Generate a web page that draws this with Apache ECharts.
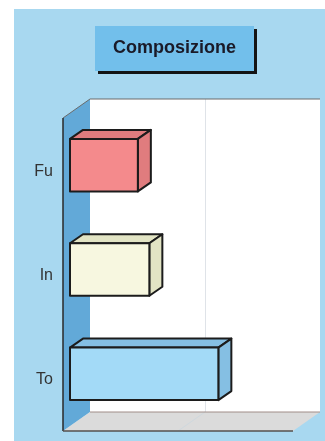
<!DOCTYPE html>
<html>
<head>
<meta charset="utf-8">
<style>
  html, body { margin: 0; padding: 0; background: #fff; }
  #chart { width: 325px; height: 441px; }
</style>
<script src="https://cdn.jsdelivr.net/npm/echarts@6/dist/echarts.min.js"></script>
</head>
<body>
<div id="chart"></div>
<script>
const categories = ['Fu', 'In', 'To'];
const values = [59, 69, 129];
const frontColors = ['#f48a8c', '#f7f7e0', '#a3daf7'];
const sideColors = ['#e07c7e', '#e2e4c4', '#85bfe3'];

const myChart = echarts.init(document.getElementById('chart'));

// 3d look: walls go this far down-left from the back plane
const wallX = -27, wallY = 19;
// bars stand a bit inside the floor
const barX = -20, barY = 14;
const barDepthX = 13, barDepthY = -9;
const barHeight = 52.5;
const edge = { stroke: '#1c1c1c', lineWidth: 2, lineJoin: 'round' };

function renderWalls(params, api) {
  const g = params.coordSys;
  const right = g.x + g.width, bottom = g.y + g.height;
  const gridX = api.coord([100, 0])[0];
  return {
    type: 'group',
    children: [
      { type: 'polygon', shape: { points: [[g.x + wallX, g.y + wallY], [g.x, g.y], [g.x, bottom], [g.x + wallX, bottom + wallY]] }, style: { fill: '#62a9d8' } },
      { type: 'polygon', shape: { points: [[g.x + wallX, bottom + wallY], [g.x, bottom], [right, bottom], [right + wallX, bottom + wallY]] }, style: { fill: '#dbdbdb' } },
      { type: 'line', shape: { x1: gridX, y1: bottom, x2: gridX + wallX, y2: bottom + wallY }, style: { stroke: '#cfd8de', lineWidth: 1 } },
      { type: 'line', shape: { x1: g.x, y1: g.y, x2: right, y2: g.y }, style: { stroke: '#6b6b6b', lineWidth: 1 } },
      { type: 'line', shape: { x1: g.x, y1: bottom, x2: right, y2: bottom }, style: { stroke: '#a08d88', lineWidth: 1 } },
      { type: 'line', shape: { x1: g.x + wallX, y1: g.y + wallY, x2: g.x, y2: g.y }, style: { stroke: '#6b6b6b', lineWidth: 1 } },
      { type: 'line', shape: { x1: g.x + wallX, y1: g.y + wallY, x2: g.x + wallX, y2: bottom + wallY }, style: { stroke: '#2a2a2a', lineWidth: 1.5 } },
      { type: 'line', shape: { x1: g.x + wallX, y1: bottom + wallY, x2: right + wallX, y2: bottom + wallY }, style: { stroke: '#55504e', lineWidth: 1.5 } }
    ]
  };
}

function renderBar(params, api) {
  const i = params.dataIndex;
  const start = api.coord([0, i]);
  const end = api.coord([api.value(0), i]);
  const x0 = start[0] + barX, x1 = end[0] + barX;
  const y0 = start[1] + barY - barHeight / 2, y1 = y0 + barHeight;
  const dx = barDepthX, dy = barDepthY;
  return {
    type: 'group',
    children: [
      { type: 'polygon', shape: { points: [[x0, y0], [x0 + dx, y0 + dy], [x1 + dx, y0 + dy], [x1, y0]] }, style: { fill: sideColors[i], ...edge } },
      { type: 'polygon', shape: { points: [[x1, y0], [x1 + dx, y0 + dy], [x1 + dx, y1 + dy], [x1, y1]] }, style: { fill: sideColors[i], ...edge } },
      { type: 'rect', shape: { x: x0, y: y0, width: x1 - x0, height: barHeight }, style: { fill: frontColors[i], ...edge } }
    ]
  };
}

myChart.setOption({
  animation: false,
  backgroundColor: '#ffffff',
  graphic: [{
    type: 'rect',
    z: -10,
    shape: { x: 14, y: 9, width: 311, height: 432 },
    style: { fill: '#a8d8f0' }
  }],
  title: {
    text: 'Composizione',
    left: 95,
    top: 26,
    padding: [13, 18, 14, 18],
    backgroundColor: '#72bfeb',
    shadowColor: '#141414',
    shadowBlur: 0,
    shadowOffsetX: 3,
    shadowOffsetY: 3,
    textStyle: { fontFamily: 'Liberation Sans', fontSize: 18, fontWeight: 'bold', color: '#1a1a28' }
  },
  grid: { left: 90, top: 99, width: 230, height: 313, show: true, backgroundColor: '#ffffff', borderWidth: 0 },
  xAxis: {
    type: 'value',
    min: 0,
    max: 200,
    interval: 100,
    axisLine: { show: false },
    axisTick: { show: false },
    axisLabel: { show: false },
    splitLine: { show: true, showMinLine: false, showMaxLine: false, lineStyle: { color: '#dfe3e8', width: 1 } }
  },
  yAxis: {
    type: 'category',
    inverse: true,
    data: categories,
    axisLine: { show: false },
    axisTick: { show: false },
    axisLabel: {
      margin: 37,
      verticalAlign: 'top',
      lineHeight: 40,
      fontFamily: 'Liberation Sans',
      fontSize: 16,
      color: '#333333'
    }
  },
  series: [
    { type: 'custom', z: 1, silent: true, renderItem: renderWalls, data: [0], encode: { x: -1, y: -1 } },
    {
      type: 'custom',
      z: 2,
      renderItem: renderBar,
      data: values.map((v, i) => [v, i]),
      encode: { x: 0, y: 1 }
    }
  ]
});
</script>
</body>
</html>
